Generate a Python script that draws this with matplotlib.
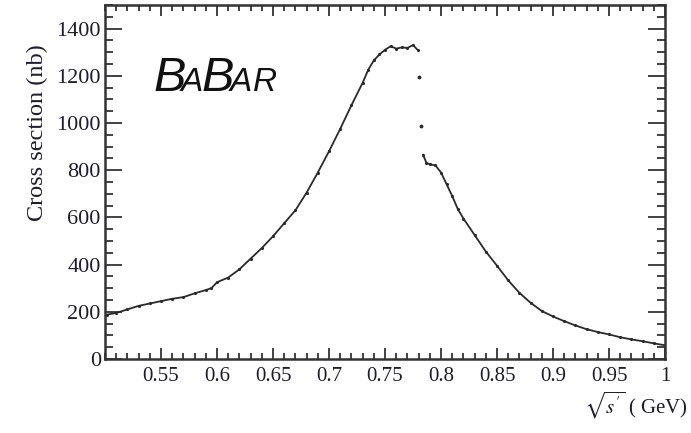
import matplotlib
matplotlib.use("Agg")
import matplotlib.pyplot as plt
from matplotlib.ticker import MultipleLocator

plt.rcParams['font.family'] = ['Liberation Serif', 'DejaVu Serif']
plt.rcParams['mathtext.fontset'] = 'stix'

# cross section, split where the omega drop is
x_low = [0.502, 0.51, 0.52, 0.53, 0.54, 0.55, 0.56, 0.57, 0.58, 0.59, 0.595,
         0.60, 0.61, 0.62, 0.63, 0.64, 0.65, 0.66, 0.67, 0.68, 0.69, 0.70,
         0.71, 0.72, 0.73, 0.735, 0.74, 0.745, 0.75, 0.755, 0.76, 0.765,
         0.77, 0.775, 0.779]
y_low = [188, 195, 210, 225, 235, 245, 255, 262, 278, 292, 300,
         325, 345, 380, 425, 470, 520, 575, 630, 705, 790, 880,
         975, 1075, 1170, 1225, 1265, 1290, 1310, 1325, 1315, 1320,
         1318, 1330, 1310]
x_drop = [0.780, 0.782]
y_drop = [1195, 985]
x_high = [0.784, 0.787, 0.79, 0.795, 0.80, 0.805, 0.81, 0.815, 0.82, 0.83,
          0.84, 0.85, 0.86, 0.87, 0.88, 0.89, 0.90, 0.91, 0.92, 0.93, 0.94,
          0.95, 0.96, 0.97, 0.98, 0.99, 1.0]
y_high = [865, 830, 825, 820, 790, 740, 690, 635, 595, 525,
          455, 395, 333, 280, 238, 203, 180, 160, 142, 126, 114,
          104, 92, 83, 75, 66, 58]

x_ticks = [0.55, 0.6, 0.65, 0.7, 0.75, 0.8, 0.85, 0.9, 0.95, 1.0]
x_ticklabels = ['0.55', '0.6', '0.65', '0.7', '0.75', '0.8', '0.85', '0.9', '0.95', '1']
y_ticks = [0, 200, 400, 600, 800, 1000, 1200, 1400]

ink = '#1c1c2e'

fig = plt.figure(figsize=(6.91, 4.33), dpi=100)
ax = fig.add_axes([0.152, 0.171, 0.8104, 0.8176])

pt_col = '#2a2a2a'
ax.plot(x_low, y_low, '-', color=pt_col, lw=1.3, marker='.', ms=2.5)
ax.plot(x_drop, y_drop, '.', color=pt_col, ms=3.5)
ax.plot(x_high, y_high, '-', color=pt_col, lw=1.3, marker='.', ms=2.5)

ax.set_xlim(0.5, 1.0)
ax.set_ylim(0, 1500)
ax.set_xticks(x_ticks)
ax.set_xticklabels(x_ticklabels)
ax.set_yticks(y_ticks)
ax.xaxis.set_minor_locator(MultipleLocator(0.01))
ax.yaxis.set_minor_locator(MultipleLocator(50))

ax.tick_params(which='both', direction='in', top=True, right=True,
               colors='#333333', labelcolor=ink, width=1.3)
ax.tick_params(axis='x', which='major', length=8, pad=6, labelsize=15)
ax.tick_params(axis='x', which='minor', length=4)
ax.tick_params(axis='y', which='major', length=12, pad=3, labelsize=16)
ax.tick_params(axis='y', which='minor', length=6)
for sp in ax.spines.values():
    sp.set_linewidth(1.8)
    sp.set_color('#333333')

ax.set_ylabel('Cross section (nb)', fontsize=17.5, color=ink)
ax.yaxis.set_label_coords(-0.102, 0.638)
fig.text(0.995, 0.045, r"$\sqrt{s'}$ ( GeV)", fontsize=15, color=ink,
         ha='right', va='baseline')

# BaBar logo, small caps made by hand
logo = [('B', 0.0857, 35), ('A', 0.1357, 24), ('B', 0.1714, 35),
        ('A', 0.2232, 24), ('R', 0.2643, 24)]
for s, xpos, size in logo:
    ax.text(xpos, 0.757, s, transform=ax.transAxes, fontsize=size,
            family='Liberation Sans', style='italic', color='#111111',
            va='baseline', ha='left')

fig.savefig('out.png', dpi=100)
